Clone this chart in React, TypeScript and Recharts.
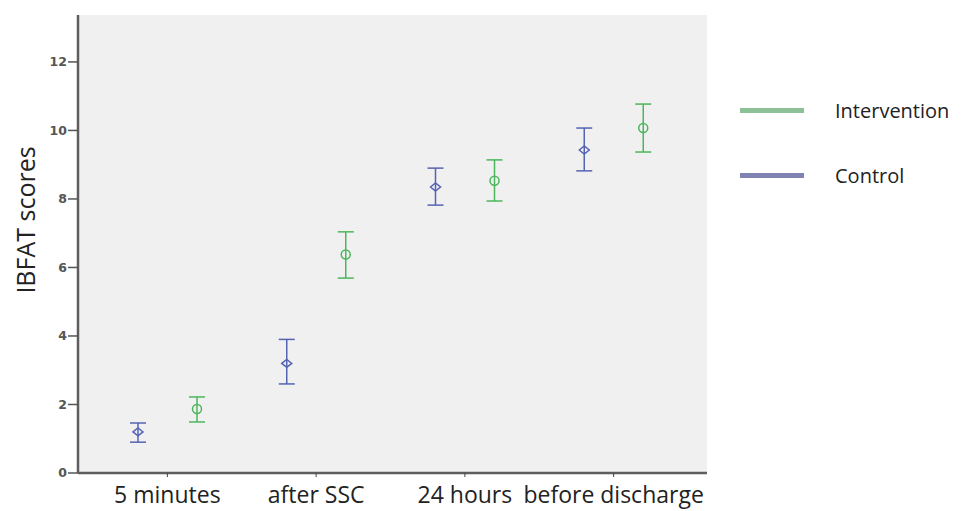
import { Bar, ComposedChart, CartesianGrid, ErrorBar, XAxis, YAxis } from 'recharts';

const categories = ['5 minutes', 'after SSC', '24 hours', 'before discharge'];
const controlMean = [1.2, 3.2, 8.35, 9.43];
const controlLow = [0.9, 2.6, 7.82, 8.82];
const controlHigh = [1.46, 3.9, 8.9, 10.07];
const interventionMean = [1.87, 6.38, 8.53, 10.07];
const interventionLow = [1.49, 5.69, 7.94, 9.37];
const interventionHigh = [2.22, 7.04, 9.14, 10.77];
const yTicks = [0, 2, 4, 6, 8, 10, 12];

const CONTROL = '#5563b3';
const INTERVENTION = '#4cb65c';
const FRAME = '#5e5e5e';

const data = categories.map((label, i) => ({
  label,
  control: controlMean[i],
  controlErr: [controlMean[i] - controlLow[i], controlHigh[i] - controlMean[i]],
  intervention: interventionMean[i],
  interventionErr: [interventionMean[i] - interventionLow[i], interventionHigh[i] - interventionMean[i]],
}));

function Diamond(props: any) {
  const { x, y, width } = props;
  const cx = x + width / 2;
  return (
    <path
      d={`M${cx - 5},${y} L${cx},${y - 4} L${cx + 5},${y} L${cx},${y + 4} Z`}
      fill="none"
      stroke={CONTROL}
      strokeWidth={1.5}
    />
  );
}

function Circle(props: any) {
  const { x, y, width } = props;
  return <circle cx={x + width / 2} cy={y} r={4.5} fill="none" stroke={INTERVENTION} strokeWidth={1.5} />;
}

// y-axis title sits a bit above the plot's middle, as in the source
function YTitle(props: any) {
  const { viewBox } = props;
  const x = 25;
  const y = viewBox.y + viewBox.height / 2 - 24;
  return (
    <text x={x} y={y} transform={`rotate(-90, ${x}, ${y})`} textAnchor="middle" dominantBaseline="central"
      fontSize={25} fill="#222">
      IBFAT scores
    </text>
  );
}

const legendItems = [
  { name: 'Intervention', color: '#8cc197' },
  { name: 'Control', color: '#8082b3' },
];

function LegendBox() {
  return (
    <div style={{ position: 'absolute', left: 740, top: 95 }}>
      {legendItems.map((it) => (
        <div key={it.name} style={{ display: 'flex', alignItems: 'center', height: 30, marginBottom: 35 }}>
          <div style={{ width: 64, height: 5, background: it.color }} />
          <span style={{ marginLeft: 31, fontSize: 20, color: '#222' }}>{it.name}</span>
        </div>
      ))}
    </div>
  );
}

export default function App() {
  return (
    <div style={{ position: 'absolute', left: 0, top: 0, width: 972, height: 511, background: '#fff', fontFamily: '"Open Sans", sans-serif' }}>
      <ComposedChart
        width={972}
        height={511}
        data={data}
        margin={{ top: 15, right: 265, bottom: 0, left: 38 }}
        barSize={12}
        barGap={47}
      >
        <CartesianGrid fill="#f0f0f0" horizontal={false} vertical={false} />
        <XAxis
          dataKey="label"
          padding={{ left: 15, right: 19 }}
          height={38}
          axisLine={{ stroke: FRAME, strokeWidth: 2.5 }}
          tickLine={{ stroke: '#444' }}
          tickSize={4}
          tickMargin={10}
          tick={{ fontSize: 23, fill: '#222' }}
          interval={0}
        />
        <XAxis xAxisId="top" dataKey="label" orientation="top" height={0} tick={false} tickLine={false}
          axisLine={{ stroke: FRAME, strokeWidth: 2.5 }} />
        <YAxis
          domain={[0, 13.37]}
          ticks={yTicks}
          width={40}
          axisLine={{ stroke: FRAME, strokeWidth: 2.5 }}
          tickLine={{ stroke: '#555', strokeWidth: 1.5 }}
          tickSize={10}
          tickMargin={1}
          tick={{ fontSize: 12.5, fill: '#555', fontWeight: 'bold', fontFamily: '"DejaVu Sans", sans-serif' }}
          label={<YTitle />}
        />
        <YAxis yAxisId="right" orientation="right" width={0} domain={[0, 13.37]} tick={false} tickLine={false}
          axisLine={{ stroke: FRAME, strokeWidth: 2.5 }} />
        <Bar dataKey="control" name="Control" shape={<Diamond />} isAnimationActive={false}>
          <ErrorBar dataKey="controlErr" width={8} stroke={CONTROL} strokeWidth={1.5} />
        </Bar>
        <Bar dataKey="intervention" name="Intervention" shape={<Circle />} isAnimationActive={false}>
          <ErrorBar dataKey="interventionErr" width={8} stroke={INTERVENTION} strokeWidth={1.5} />
        </Bar>
      </ComposedChart>
      <LegendBox />
    </div>
  );
}
